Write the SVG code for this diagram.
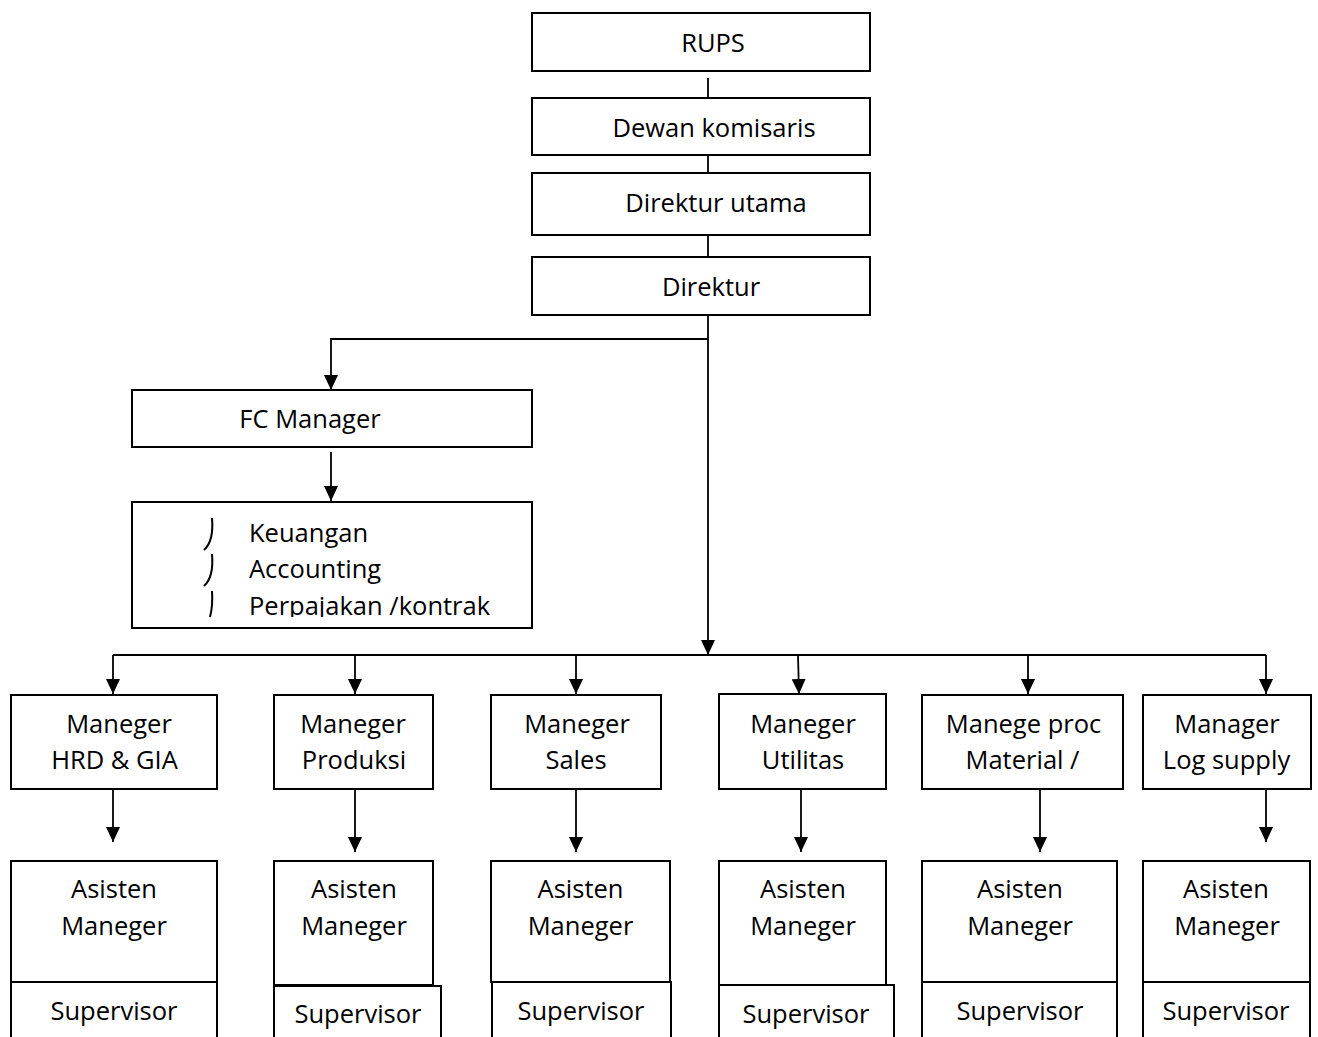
<svg xmlns="http://www.w3.org/2000/svg" width="1318" height="1037" viewBox="0 0 1318 1037">
<style>
.box{fill:#fff;stroke:#000;stroke-width:2}
.t{font-family:"Open Sans","Noto Sans",sans-serif;font-size:25.5px;fill:#000}
.c{text-anchor:middle}
.ln{fill:none;stroke:#000;stroke-width:1.8}
.bl{fill:none;stroke:#000;stroke-width:2}
</style>
<defs>
<marker id="ah" markerUnits="userSpaceOnUse" markerWidth="15" markerHeight="14" refX="15" refY="7" orient="auto" viewBox="0 0 15 14">
<path d="M0,0 L15,7 L0,14 Z" fill="#000"/>
</marker>
<clipPath id="clipSub"><rect x="132" y="502" width="400" height="115"/></clipPath>
</defs>
<rect width="1318" height="1037" fill="#fff"/>
<g id="connectors">
<line class="ln" x1="708" y1="78" x2="708" y2="100"/>
<line class="ln" x1="708" y1="151" x2="708" y2="173"/>
<line class="ln" x1="708" y1="235" x2="708" y2="257"/>
<line class="ln" x1="708" y1="315" x2="708" y2="655" marker-end="url(#ah)"/>
<polyline class="ln" points="708,339 331,339 331,390" marker-end="url(#ah)"/>
<line class="ln" x1="331" y1="452" x2="331" y2="501" marker-end="url(#ah)"/>
<line class="ln" x1="113" y1="655" x2="1266" y2="655"/>
<line class="ln" x1="113" y1="655" x2="113" y2="694" marker-end="url(#ah)"/>
<line class="ln" x1="355" y1="655" x2="355" y2="694" marker-end="url(#ah)"/>
<line class="ln" x1="576" y1="655" x2="576" y2="694" marker-end="url(#ah)"/>
<line class="ln" x1="798" y1="655" x2="799" y2="694" marker-end="url(#ah)"/>
<line class="ln" x1="1028" y1="655" x2="1028" y2="694" marker-end="url(#ah)"/>
<line class="ln" x1="1266" y1="655" x2="1266" y2="694" marker-end="url(#ah)"/>
<line class="ln" x1="113" y1="789" x2="113" y2="842" marker-end="url(#ah)"/>
<line class="ln" x1="355" y1="789" x2="355" y2="852" marker-end="url(#ah)"/>
<line class="ln" x1="576" y1="789" x2="576" y2="852" marker-end="url(#ah)"/>
<line class="ln" x1="801" y1="789" x2="801" y2="852" marker-end="url(#ah)"/>
<line class="ln" x1="1040" y1="789" x2="1040" y2="852" marker-end="url(#ah)"/>
<line class="ln" x1="1266" y1="789" x2="1266" y2="842" marker-end="url(#ah)"/>
</g>
<g id="rups"><rect class="box" x="532" y="13" width="338" height="58"/><text class="t c" x="713" y="52">RUPS</text></g>
<g id="dewan"><rect class="box" x="532" y="98" width="338" height="57"/><text class="t c" x="714" y="137">Dewan komisaris</text></g>
<g id="dirut"><rect class="box" x="532" y="173" width="338" height="62"/><text class="t c" x="716" y="212">Direktur utama</text></g>
<g id="direktur"><rect class="box" x="532" y="257" width="338" height="58"/><text class="t c" x="711" y="296">Direktur</text></g>
<g id="fc"><rect class="box" x="132" y="390" width="400" height="57"/><text class="t c" x="310" y="428">FC Manager</text></g>
<g id="fc-sub"><rect class="box" x="132" y="502" width="400" height="126"/>
<path class="bl" d="M212,518 Q214,541 204,550"/>
<path class="bl" d="M212,554 Q214,577 204,586"/>
<path class="bl" d="M212,591 Q213,606 210,617"/>
<text class="t" x="249" y="542">Keuangan</text>
<text class="t" x="249" y="578">Accounting</text>
<text class="t" x="249" y="615" clip-path="url(#clipSub)">Perpajakan /kontrak</text>
</g>
<g id="m-hrd"><rect class="box" x="11" y="695" width="206" height="94"/><text class="t c" x="119" y="733">Maneger</text><text class="t c" x="114.5" y="769">HRD &amp; GIA</text></g>
<g id="m-prod"><rect class="box" x="274" y="695" width="159" height="94"/><text class="t c" x="353" y="733">Maneger</text><text class="t c" x="354" y="769">Produksi</text></g>
<g id="m-sales"><rect class="box" x="491" y="695" width="170" height="94"/><text class="t c" x="577" y="733">Maneger</text><text class="t c" x="576" y="769">Sales</text></g>
<g id="m-util"><rect class="box" x="719" y="694" width="167" height="95"/><text class="t c" x="803" y="733">Maneger</text><text class="t c" x="803" y="769">Utilitas</text></g>
<g id="m-proc"><rect class="box" x="922" y="695" width="201" height="94"/><text class="t c" x="1023.5" y="733">Manege proc</text><text class="t c" x="1022.5" y="769">Material /</text></g>
<g id="m-log"><rect class="box" x="1143" y="695" width="168" height="94"/><text class="t c" x="1227" y="733">Manager</text><text class="t c" x="1226.5" y="769">Log supply</text></g>
<g id="a-hrd"><rect class="box" x="11" y="861" width="206" height="121"/><text class="t c" x="114" y="898">Asisten</text><text class="t c" x="114" y="935">Maneger</text></g>
<g id="s-hrd"><rect class="box" x="11" y="982" width="206" height="70"/><text class="t c" x="114" y="1020">Supervisor</text></g>
<g id="a-prod"><rect class="box" x="274" y="861" width="159" height="124"/><text class="t c" x="354" y="898">Asisten</text><text class="t c" x="354" y="935">Maneger</text></g>
<g id="s-prod"><rect class="box" x="274" y="986" width="167" height="70"/><text class="t c" x="358" y="1023">Supervisor</text></g>
<g id="a-sales"><rect class="box" x="491" y="861" width="179" height="121"/><text class="t c" x="580.5" y="898">Asisten</text><text class="t c" x="580.5" y="935">Maneger</text></g>
<g id="s-sales"><rect class="box" x="492" y="982" width="179" height="70"/><text class="t c" x="581" y="1020">Supervisor</text></g>
<g id="a-util"><rect class="box" x="719" y="861" width="167" height="124"/><text class="t c" x="803" y="898">Asisten</text><text class="t c" x="803" y="935">Maneger</text></g>
<g id="s-util"><rect class="box" x="719" y="985" width="175" height="70"/><text class="t c" x="806" y="1023">Supervisor</text></g>
<g id="a-proc"><rect class="box" x="922" y="861" width="195" height="121"/><text class="t c" x="1020" y="898">Asisten</text><text class="t c" x="1020" y="935">Maneger</text></g>
<g id="s-proc"><rect class="box" x="922" y="982" width="195" height="70"/><text class="t c" x="1020" y="1020">Supervisor</text></g>
<g id="a-log"><rect class="box" x="1143" y="861" width="167" height="121"/><text class="t c" x="1226" y="898">Asisten</text><text class="t c" x="1227" y="935">Maneger</text></g>
<g id="s-log"><rect class="box" x="1143" y="982" width="167" height="70"/><text class="t c" x="1226" y="1020">Supervisor</text></g>
</svg>
